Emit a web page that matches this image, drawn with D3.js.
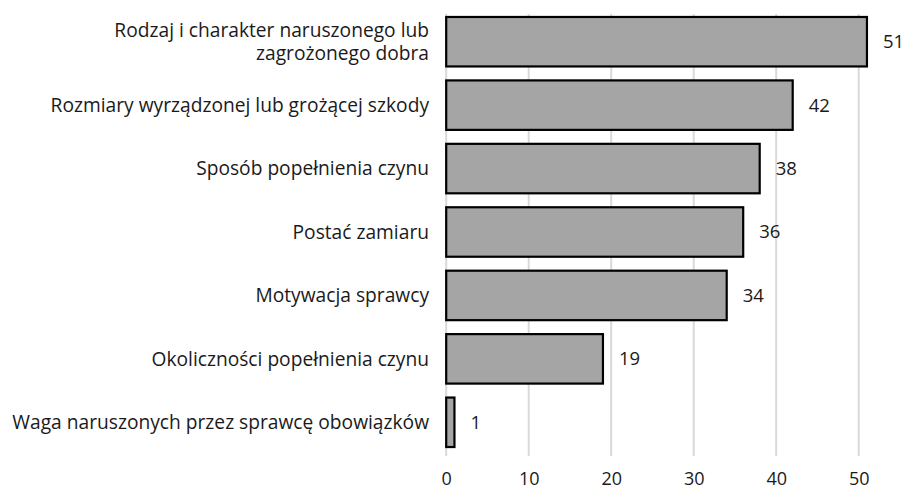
<!DOCTYPE html>
<html><head><meta charset="utf-8">
<script src="https://cdn.jsdelivr.net/npm/d3@7"></script>
<style>body{margin:0;background:#fff}svg{display:block}text{font-family:"Open Sans",sans-serif;fill:#1a1a1a}</style>
</head><body><svg id="c" width="904" height="491"></svg>
<script>
const categories = [
  ["Rodzaj i charakter naruszonego lub", "zagrożonego dobra"],
  ["Rozmiary wyrządzonej lub grożącej szkody"],
  ["Sposób popełnienia czynu"],
  ["Postać zamiaru"],
  ["Motywacja sprawcy"],
  ["Okoliczności popełnienia czynu"],
  ["Waga naruszonych przez sprawcę obowiązków"]
];
const values = [51, 42, 38, 36, 34, 19, 1];
const ticks = [0, 10, 20, 30, 40, 50];

const FS = 19.2;
const svg = d3.select("#c");
const x = d3.scaleLinear().domain([0, 50]).range([446.2, 858.7]);
const y = d3.scaleBand().domain(d3.range(categories.length)).range([10, 454]).paddingInner(0.22).paddingOuter(0.11);

// gridlines
svg.append("g").selectAll("line").data(ticks).join("line")
  .attr("x1", d => x(d)).attr("x2", d => x(d))
  .attr("y1", 14).attr("y2", 456)
  .attr("stroke", "#d9d9d9").attr("stroke-width", 2);

// bars
svg.append("g").selectAll("rect").data(values).join("rect")
  .attr("x", x(0)).attr("y", (d, i) => y(i))
  .attr("width", d => x(d) - x(0)).attr("height", y.bandwidth())
  .attr("fill", "#a5a5a5").attr("stroke", "#000").attr("stroke-width", 2.2);

// value labels
svg.append("g").selectAll("text").data(values).join("text")
  .attr("x", d => x(d) + 16).attr("y", (d, i) => y(i) + y.bandwidth() / 2)
  .attr("dy", "0.35em").attr("font-size", 18.5).text(d => d);

// category labels
const lab = svg.append("g").selectAll("text").data(categories).join("text")
  .attr("text-anchor", "end").attr("font-size", FS)
  .attr("x", 429)
  .attr("y", (d, i) => y(i) + y.bandwidth() / 2);
lab.selectAll("tspan").data(d => d.map((t, j) => ({t, j, n: d.length}))).join("tspan")
  .attr("x", 429)
  .attr("dy", d => d.j === 0 ? (0.35 - (d.n - 1) * 0.585) + "em" : "1.17em")
  .text(d => d.t);

// x axis
const ax = svg.append("g").attr("transform", "translate(0,456)")
  .call(d3.axisBottom(x).tickValues(ticks).tickSize(0).tickPadding(16));
ax.select(".domain").remove();
ax.selectAll("text").attr("font-size", 18).attr("fill", "#1a1a1a").style("font-family", '"Open Sans",sans-serif');
</script></body></html>
